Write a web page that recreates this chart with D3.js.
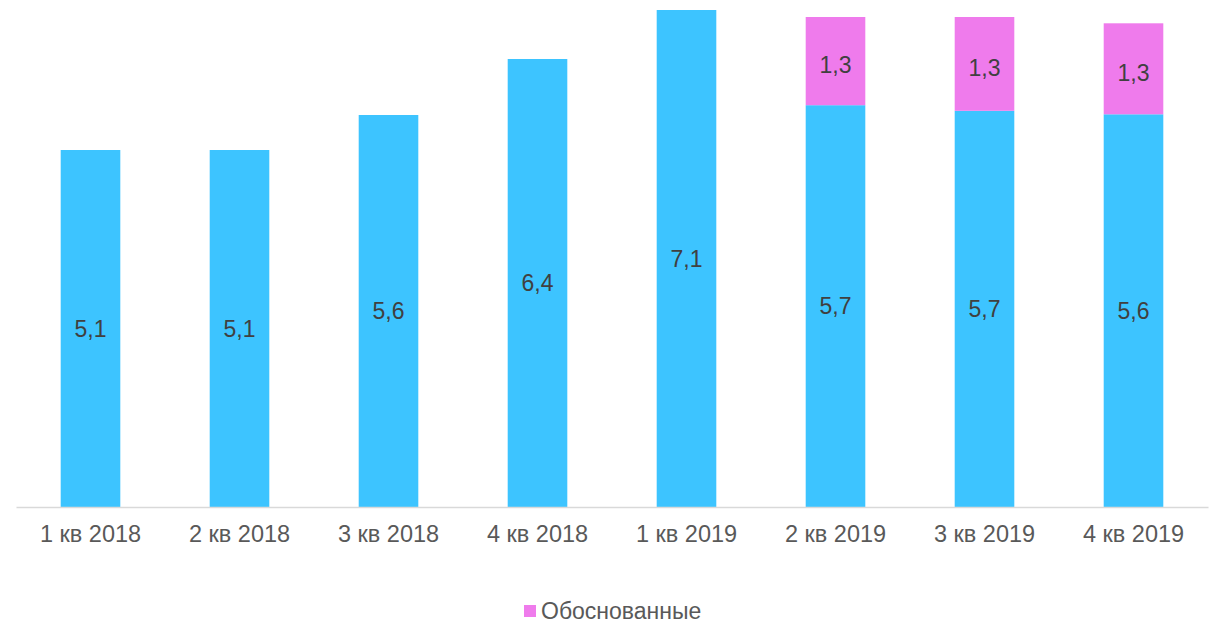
<!DOCTYPE html>
<html lang="ru">
<head>
<meta charset="UTF-8">
<title>Обоснованные</title>
<script src="https://d3js.org/d3.v7.min.js"></script>
<style>
  body { margin: 0; background: #fff; }
  svg text { font-family: "Liberation Sans", Arial, sans-serif; }
</style>
</head>
<body>
<div id="chart"></div>
<script>
// data
var quarters = ["1 кв 2018", "2 кв 2018", "3 кв 2018", "4 кв 2018",
                "1 кв 2019", "2 кв 2019", "3 кв 2019", "4 кв 2019"];
var baseValues = [5.1, 5.1, 5.6, 6.4, 7.1, 5.74, 5.66, 5.61];
var groundedValues = [0, 0, 0, 0, 0, 1.26, 1.34, 1.3];
var legendLabel = "Обоснованные";

var W = 1210, H = 625;
var svg = d3.select("#chart").append("svg")
  .attr("width", W).attr("height", H);

var x = d3.scaleBand()
  .domain(quarters)
  .range([16, 1208])
  .paddingInner(0.6)
  .paddingOuter(0.3);

var y = d3.scaleLinear()
  .domain([0, 507 / 70])
  .range([507, 0]);

var fmt = function(v) { return d3.format(".1f")(v).replace(".", ","); };

var rows = quarters.map(function(q, i) {
  return { q: q, base: baseValues[i], top: groundedValues[i] };
});

// blue segments
svg.append("g").selectAll("rect")
  .data(rows).enter().append("rect")
    .attr("x", function(d) { return x(d.q); })
    .attr("width", x.bandwidth())
    .attr("y", function(d) { return y(d.base); })
    .attr("height", function(d) { return y(0) - y(d.base); })
    .attr("fill", "#3DC4FF");

// pink segments
svg.append("g").selectAll("rect")
  .data(rows.filter(function(d) { return d.top > 0; })).enter().append("rect")
    .attr("x", function(d) { return x(d.q); })
    .attr("width", x.bandwidth())
    .attr("y", function(d) { return y(d.base + d.top); })
    .attr("height", function(d) { return y(d.base) - y(d.base + d.top); })
    .attr("fill", "#EF7BEC");

// labels
svg.append("g").selectAll("text")
  .data(rows).enter().append("text")
    .attr("x", function(d) { return x(d.q) + x.bandwidth() / 2; })
    .attr("y", function(d) { return (y(0) + y(d.base)) / 2; })
    .attr("dy", "0.35em")
    .attr("text-anchor", "middle")
    .attr("font-size", 23)
    .attr("fill", "#404040")
    .text(function(d) { return fmt(d.base); });

svg.append("g").selectAll("text")
  .data(rows.filter(function(d) { return d.top > 0; })).enter().append("text")
    .attr("x", function(d) { return x(d.q) + x.bandwidth() / 2; })
    .attr("y", function(d) { return (y(d.base) + y(d.base + d.top)) / 2 + 4; })
    .attr("dy", "0.35em")
    .attr("text-anchor", "middle")
    .attr("font-size", 23)
    .attr("fill", "#404040")
    .text(function(d) { return fmt(d.top); });

// x axis
var xAxis = svg.append("g")
  .attr("transform", "translate(0,507)")
  .call(d3.axisBottom(x).tickSize(0).tickPadding(18));
xAxis.select(".domain").attr("stroke", "#D9D9D9").attr("stroke-width", 1.5);
xAxis.selectAll("text")
  .attr("font-size", 23.5)
  .attr("fill", "#595959")
  .style("font-family", "'Liberation Sans', Arial, sans-serif");

// legend
var legend = svg.append("g").attr("transform", "translate(524,605)");
legend.append("rect").attr("width", 12).attr("height", 12).attr("fill", "#EF7BEC");
legend.append("text")
  .attr("x", 17).attr("y", 6).attr("dy", "0.35em")
  .attr("font-size", 23).attr("fill", "#595959")
  .text(legendLabel);
</script>
</body>
</html>
